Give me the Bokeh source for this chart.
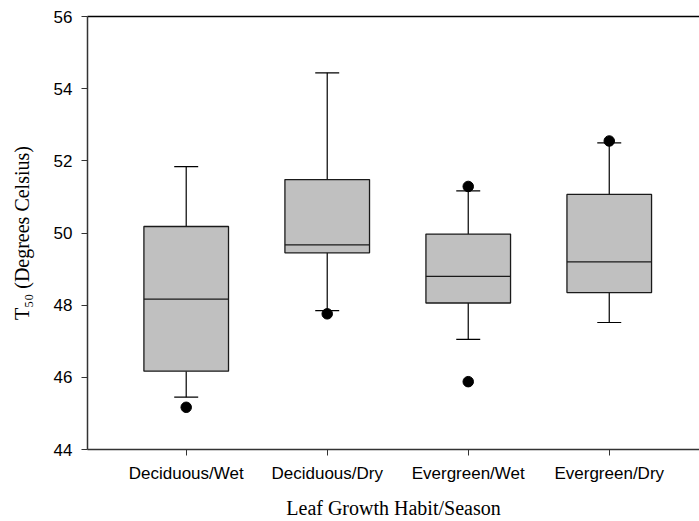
from bokeh.plotting import figure
from bokeh.models import Range1d, FixedTicker, LinearAxis
from bokeh.embed import file_html
from bokeh.resources import INLINE

# Leaf growth habit / season groups
categories = ["Deciduous/Wet", "Deciduous/Dry", "Evergreen/Wet", "Evergreen/Dry"]

# Box statistics of T50 (°C) for each group
whisker_low = [45.45, 47.85, 47.05, 47.52]
q1 = [46.17, 49.45, 48.06, 48.35]
median = [48.17, 49.67, 48.80, 49.20]
q3 = [50.18, 51.48, 49.97, 51.07]
whisker_high = [51.84, 54.44, 51.17, 52.50]

# Outlying observations (group index, value)
outlier_group = [0, 1, 2, 2, 3]
outlier_value = [45.17, 47.76, 51.29, 45.88, 52.55]

y_ticks = [44, 46, 48, 50, 52, 54, 56]

xs = list(range(len(categories)))
box_w = 0.6
cap_w = 0.17

p = figure(
    width=699, height=521,
    x_range=Range1d(-0.70, 3.64), y_range=Range1d(44, 56),
    output_backend="svg", toolbar_location=None,
    min_border_left=87, min_border_right=0,
    min_border_top=16, min_border_bottom=72,
)
p.outline_line_color = None
p.xgrid.visible = False
p.ygrid.visible = False
p.background_fill_color = "white"
p.border_fill_color = "white"

# whiskers
p.segment(x0=xs, y0=q3, x1=xs, y1=whisker_high, line_color="black", line_width=1.2)
p.segment(x0=xs, y0=q1, x1=xs, y1=whisker_low, line_color="black", line_width=1.2)
# caps
p.segment(x0=[x - cap_w / 2 for x in xs], y0=whisker_high,
          x1=[x + cap_w / 2 for x in xs], y1=whisker_high,
          line_color="black", line_width=1.2)
p.segment(x0=[x - cap_w / 2 for x in xs], y0=whisker_low,
          x1=[x + cap_w / 2 for x in xs], y1=whisker_low,
          line_color="black", line_width=1.2)
# boxes
p.vbar(x=xs, width=box_w, bottom=q1, top=q3,
       fill_color="#c0c0c0", line_color="#1a1a1a", line_width=1.3)
# medians
p.segment(x0=[x - box_w / 2 for x in xs], y0=median,
          x1=[x + box_w / 2 for x in xs], y1=median,
          line_color="#1a1a1a", line_width=1.3)
# outliers
p.scatter(x=outlier_group, y=outlier_value, size=10.5,
          fill_color="black", line_color="black")

axis_color = "#333333"
tick_font = "Liberation Sans"

# bottom axis
xa = p.xaxis[0]
xa.ticker = FixedTicker(ticks=xs)
xa.major_label_overrides = {i: c for i, c in enumerate(categories)}
xa.axis_label = "Leaf Growth Habit/Season"
xa.axis_label_text_font = "Liberation Serif"
xa.axis_label_text_font_style = "normal"
xa.axis_label_text_font_size = "20px"
xa.axis_label_text_color = "black"
xa.axis_label_standoff = 11
xa.major_label_text_font = tick_font
xa.major_label_text_font_size = "17px"
xa.major_label_text_color = "black"
xa.major_label_standoff = 8
xa.major_tick_in = 0
xa.major_tick_out = 6
xa.minor_tick_line_color = None
xa.axis_line_color = axis_color
xa.axis_line_width = 1.5
xa.major_tick_line_color = axis_color

# left axis
ya = p.yaxis[0]
ya.ticker = FixedTicker(ticks=y_ticks)
ya.axis_label = "T\u2085\u2080 (Degrees Celsius)"
ya.axis_label_text_font = "Liberation Serif"
ya.axis_label_text_font_style = "normal"
ya.axis_label_text_font_size = "20px"
ya.axis_label_text_color = "black"
ya.axis_label_standoff = 18
ya.major_label_text_font = tick_font
ya.major_label_text_font_size = "17px"
ya.major_label_text_color = "black"
ya.major_label_standoff = 9
ya.major_tick_in = 0
ya.major_tick_out = 6
ya.minor_tick_line_color = None
ya.axis_line_color = axis_color
ya.axis_line_width = 1.5
ya.major_tick_line_color = axis_color

# plain top border line
top = LinearAxis(ticker=FixedTicker(ticks=[]), axis_line_color="black",
                 axis_line_width=1.5, major_tick_line_color=None,
                 minor_tick_line_color=None, major_label_text_font_size="0px")
p.add_layout(top, "above")

open("out.html", "w").write(file_html(p, INLINE))
